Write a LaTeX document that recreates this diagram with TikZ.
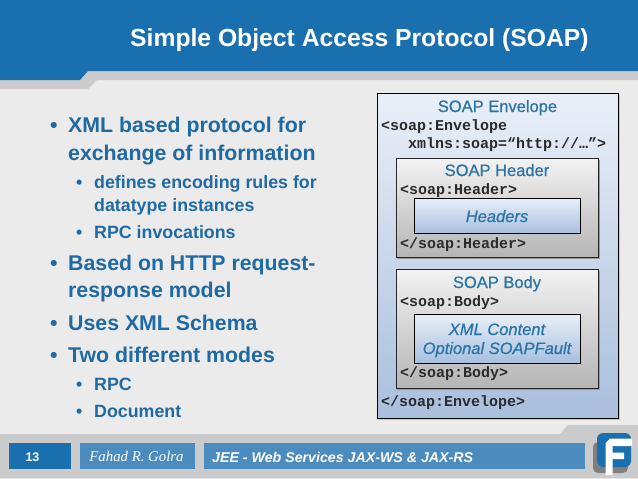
\documentclass[tikz,border=0pt]{standalone}
\usepackage{fontspec}
\setmainfont{Liberation Sans}
\newfontfamily\monof{Liberation Mono}
\newfontfamily\headf[FakeBold=0.7]{Liberation Sans}
\newfontfamily\sigf{Liberation Serif}
\usetikzlibrary{calc}
\definecolor{bg}{HTML}{EBEBEB}
\definecolor{band}{HTML}{CBCBCB}
\definecolor{hblue}{HTML}{1A6FAE}
\definecolor{fblue}{HTML}{4C8BBE}
\definecolor{tblue}{HTML}{2A74A8}
\definecolor{lblue}{HTML}{1F6AA3}
\definecolor{code}{HTML}{2B2B2B}
\definecolor{envtop}{HTML}{E9EFF8}
\definecolor{envbot}{HTML}{A9BFDD}
\definecolor{grytop}{HTML}{F2F2F2}
\definecolor{grybot}{HTML}{B5B5B5}
\definecolor{intop}{HTML}{E8EEF7}
\definecolor{inbot}{HTML}{A6C0E0}
\tikzset{
 x=1pt,y=-1pt,
 outerbox/.style={draw=black,line width=.8pt,anchor=north west,inner sep=0pt,top color=envtop,bottom color=envbot},
 grey box/.style={draw=black!85,line width=1.1pt,anchor=north west,inner sep=0pt,top color=grytop,bottom color=grybot},
 inner box/.style={draw=black,line width=.8pt,anchor=north west,inner sep=0pt,top color=intop,bottom color=inbot},
 heading/.style={font=\fontsize{16.5}{18}\selectfont\headf,text=tblue,anchor=base,inner sep=0pt},
 inneritem/.style={font=\fontsize{16.5}{18}\selectfont\headf\itshape,text=tblue,anchor=base,inner sep=0pt},
 codeline/.style={font=\fontsize{15}{16}\selectfont\monof\bfseries,text=code,anchor=base west,inner sep=0pt},
 bigitem/.style={font=\fontsize{21.3}{23}\selectfont\bfseries,text=lblue,anchor=base west,inner sep=0pt},
 smallitem/.style={font=\fontsize{17.8}{19}\selectfont\bfseries,text=lblue,anchor=base west,inner sep=0pt},
 footbox/.style={fill=#1,draw=none,anchor=north west,inner sep=0pt,minimum height=26pt},
}
\begin{document}
\begin{tikzpicture}
\useasboundingbox (0,0) rectangle (638,479);
\fill[bg] (0,0) rectangle (638,479);
% header
\fill[band] (0,80) -- (80,80) -- (88,71) -- (638,71) -- (638,80) -- (97,80) -- (88,89) -- (0,89) -- cycle;
\fill[hblue] (0,0) -- (638,0) -- (638,71) -- (88,71) -- (80,80) -- (0,80) -- cycle;
\node[font=\fontsize{24.7}{26}\selectfont\bfseries,text=white,anchor=base west,inner sep=0pt] (title) at (130,46) {Simple Object Access Protocol (SOAP)};
% left list
\node[bigitem] (b1) at (50,132) {•};
\node[bigitem] (t1) at (68,132) {XML based protocol for};
\node[bigitem] (t1b) at (68,160) {exchange of information};
\node[smallitem] (b2) at (76,188) {•};
\node[smallitem] (t2) at (94,188) {defines encoding rules for};
\node[smallitem] (t2b) at (94,211) {datatype instances};
\node[smallitem] (b3) at (76,238) {•};
\node[smallitem] (t3) at (94,238) {RPC invocations};
\node[bigitem] (b4) at (50,270) {•};
\node[bigitem] (t4) at (68,270) {Based on HTTP request-};
\node[bigitem] (t4b) at (68,297) {response model};
\node[bigitem] (b5) at (50,330) {•};
\node[bigitem] (t5) at (68,330) {Uses XML Schema};
\node[bigitem] (b6) at (50,362) {•};
\node[bigitem] (t6) at (68,362) {Two different modes};
\node[smallitem] (b7) at (76,390) {•};
\node[smallitem] (t7) at (94,390) {RPC};
\node[smallitem] (b8) at (76,417) {•};
\node[smallitem] (t8) at (94,417) {Document};
% envelope
\fill[black!22] (378,94.5) rectangle (619.5,420);
\node[outerbox,minimum width=241pt,minimum height=325pt] (env) at (377,93) {};
\node[heading] (envt) at (497.5,112) {SOAP Envelope};
\node[codeline] (c1) at (381,130) {<soap:Envelope};
\node[codeline] (c2) at (408,148) {xmlns:soap=“http://…”>};
% header box
\fill[black!40] (397,160) rectangle (599.5,259);
\node[grey box,minimum width=202pt,minimum height=99pt] (hdr) at (396,158) {};
\node[heading] (hdrt) at (497,176) {SOAP Header};
\node[codeline] (c3) at (400,194) {<soap:Header>};
\node[inner box,minimum width=166pt,minimum height=35pt] (hin) at (414,198) {};
\node[inneritem] (hint) at (497,222) {Headers};
\node[codeline] (c4) at (400,248) {</soap:Header>};
% body box
\fill[black!40] (397,271) rectangle (599.5,390);
\node[grey box,minimum width=202pt,minimum height=119pt] (bdy) at (396,269) {};
\node[heading] (bdyt) at (497,288) {SOAP Body};
\node[codeline] (c5) at (400,306) {<soap:Body>};
\node[inner box,minimum width=166pt,minimum height=49pt] (bin) at (414,314) {};
\node[inneritem] (bin1) at (497,335) {XML Content};
\node[inneritem] (bin2) at (497,354) {Optional SOAPFault};
\node[codeline] (c6) at (400,377) {</soap:Body>};
\node[codeline] (c7) at (381,406) {</soap:Envelope>};
% footer
\fill[band] (0,434) -- (560,434) -- (568,425) -- (638,425) -- (638,478) -- (0,478) -- cycle;
\node[footbox=hblue,minimum width=62pt] (num) at (9,443) {};
\node[font=\fontsize{12.5}{14}\selectfont\bfseries,text=white,inner sep=0pt] (numt) at (32.5,457) {13};
\node[footbox=fblue,minimum width=115pt] (auth) at (80,443) {};
\node[font=\fontsize{14.8}{16}\selectfont\sigf\itshape,text=white,inner sep=0pt] (autht) at (136.5,456) {Fahad R. Golra};
\node[footbox=fblue,minimum width=381pt] (foot) at (204,443) {};
\node[font=\fontsize{14.2}{16}\selectfont\bfseries\itshape,text=white,anchor=base west,inner sep=0pt] (foott) at (212,462) {JEE - Web Services JAX-WS \& JAX-RS};
% logo
\fill[black!50,rounded corners=5pt] (593,442) rectangle (628,473);
\fill[hblue,rounded corners=6pt] (597,433) rectangle (631,467);
\fill[white] (632,438.5) -- (610,438.5) -- (605.5,443) -- (605.5,475) -- (612.5,475) -- (612.5,459) -- (624,459) -- (624,452.5) -- (612.5,452.5) -- (612.5,446) -- (632,446) -- cycle;
\end{tikzpicture}
\end{document}
